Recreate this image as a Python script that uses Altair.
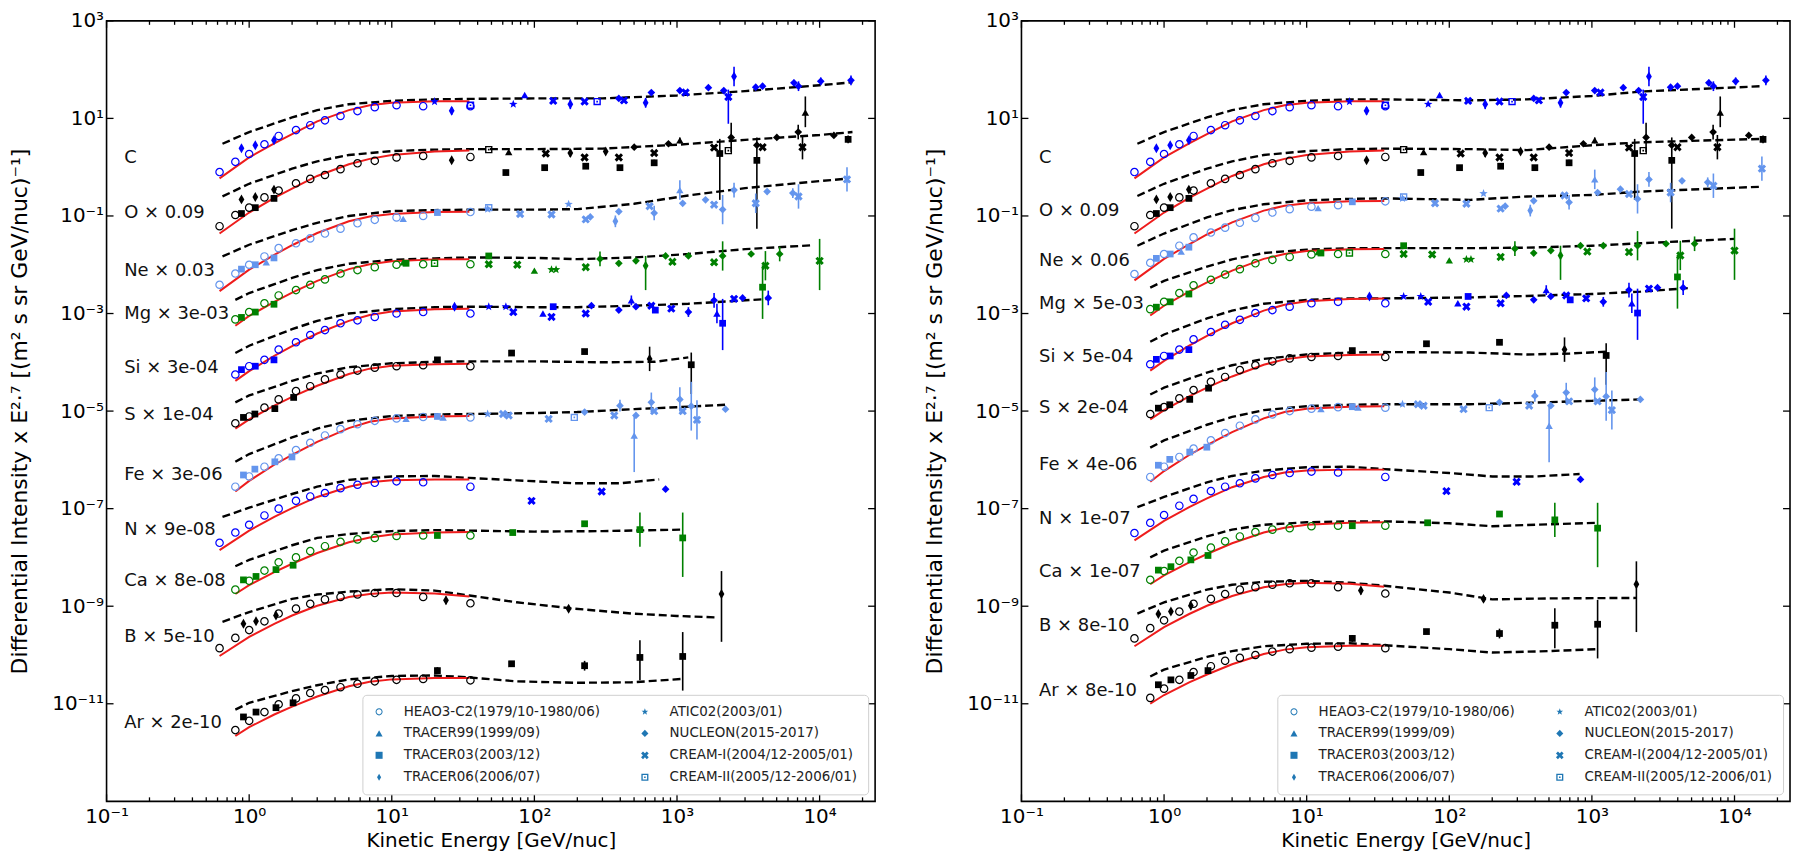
import math
import pandas as pd
import altair as alt

# ---------------------------------------------------------------- data
ELEMENTS = ["C", "O", "Ne", "Mg", "Si", "S", "Fe", "N", "Ca", "B", "Ar"]
COLORS = {"C": "#0000ff", "O": "#000000", "Ne": "#6495ed", "Mg": "#008000",
          "Si": "#0000ff", "S": "#000000", "Fe": "#6495ed", "N": "#0000ff",
          "Ca": "#008000", "B": "#000000", "Ar": "#000000"}
LOW_START = ["C", "O", "Ne", "N", "B"]          # HEAO data starting at 0.62 GeV/nuc

LABELS_LEFT = {"C": "C", "O": "O × 0.09", "Ne": "Ne × 0.03", "Mg": "Mg × 3e-03",
               "Si": "Si × 3e-04", "S": "S × 1e-04", "Fe": "Fe × 3e-06",
               "N": "N × 9e-08", "Ca": "Ca × 8e-08", "B": "B × 5e-10", "Ar": "Ar × 2e-10"}
LABELS_RIGHT = {"C": "C", "O": "O × 0.09", "Ne": "Ne × 0.06", "Mg": "Mg × 5e-03",
                "Si": "Si × 5e-04", "S": "S × 2e-04", "Fe": "Fe × 4e-06",
                "N": "N × 1e-07", "Ca": "Ca × 1e-07", "B": "B × 8e-10", "Ar": "Ar × 8e-10"}
LABEL_E = 0.133
LABEL_LOGY_LEFT = {"C": 0.18, "O": -0.93, "Ne": -2.12, "Mg": -3.02, "Si": -4.11, "S": -5.09,
                   "Fe": -6.31, "N": -7.43, "Ca": -8.48, "B": -9.63, "Ar": -11.39}
LABEL_LOGY_RIGHT = {"C": 0.18, "O": -0.89, "Ne": -1.92, "Mg": -2.80, "Si": -3.90, "S": -4.93,
                    "Fe": -6.11, "N": -7.22, "Ca": -8.29, "B": -9.41, "Ar": -10.73}
# vertical displacement (log10) of the scaled data in the right panel
RIGHT_SHIFT = {"C": 0.0, "O": 0.0, "Ne": 0.22, "Mg": 0.21, "Si": 0.21, "S": 0.19,
               "Fe": 0.20, "N": 0.20, "Ca": 0.20, "B": 0.20, "Ar": 0.66}

# HEAO3-C2 energies (GeV/nuc) and log10 of scaled intensity (left panel)
HEAO_E = [0.62, 0.8, 1.0, 1.28, 1.61, 2.13, 2.68, 3.4, 4.37, 5.75, 7.6, 10.8, 16.6, 35.6]
HEAO_LOG = {
    "C": [-0.10, 0.11, 0.27, 0.47, 0.64, 0.76, 0.86, 0.96, 1.05, 1.15, 1.23, 1.27, 1.25, 1.25],
    "O": [-1.21, -0.98, -0.83, -0.62, -0.48, -0.33, -0.24, -0.16, -0.04, 0.08, 0.13, 0.20, 0.23, 0.21],
    "Ne": [-2.41, -2.18, -2.00, -1.83, -1.66, -1.56, -1.46, -1.36, -1.26, -1.15, -1.08, -1.03, -1.00, -0.92],
    "Mg": [-3.12, -2.97, -2.79, -2.63, -2.52, -2.41, -2.30, -2.18, -2.11, -2.05, -2.00, -1.99, -1.99],
    "Si": [-4.25, -4.08, -3.95, -3.74, -3.59, -3.44, -3.34, -3.20, -3.14, -3.07, -3.00, -2.97, -3.00],
    "S": [-5.25, -5.11, -4.93, -4.76, -4.59, -4.49, -4.35, -4.25, -4.17, -4.11, -4.08, -4.06, -4.08],
    "Fe": [-6.55, -6.34, -6.14, -5.97, -5.80, -5.65, -5.50, -5.37, -5.27, -5.20, -5.15, -5.12, -5.13],
    "N": [-7.70, -7.49, -7.33, -7.14, -7.00, -6.84, -6.75, -6.68, -6.58, -6.51, -6.47, -6.44, -6.46, -6.55],
    "Ca": [-8.66, -8.48, -8.27, -8.10, -8.00, -7.87, -7.77, -7.68, -7.63, -7.60, -7.56, -7.55, -7.55],
    "B": [-9.86, -9.65, -9.49, -9.31, -9.15, -9.05, -8.95, -8.86, -8.81, -8.76, -8.73, -8.73, -8.81, -8.94],
    "Ar": [-11.54, -11.35, -11.17, -11.01, -10.89, -10.78, -10.72, -10.66, -10.59, -10.54, -10.51, -10.49, -10.52],
}

# red (modulated) model, log10 values (left panel)
RED_E_LOW = [0.62, 1.0, 1.5, 2, 3, 5, 7, 10, 20, 35]
RED_E_HIGH = [0.8, 1.0, 1.5, 2, 3, 5, 7, 10, 20, 35]
RED_LOG = {
    "C": [-0.23, 0.20, 0.49, 0.68, 0.94, 1.17, 1.27, 1.32, 1.35, 1.35],
    "O": [-1.36, -0.93, -0.63, -0.44, -0.18, 0.06, 0.17, 0.25, 0.32, 0.34],
    "Ne": [-2.54, -2.10, -1.80, -1.60, -1.35, -1.11, -1.01, -0.96, -0.92, -0.915],
    "Mg": [-3.25, -3.05, -2.76, -2.57, -2.33, -2.09, -1.99, -1.93, -1.89, -1.885],
    "Si": [-4.38, -4.18, -3.87, -3.67, -3.41, -3.15, -3.03, -2.96, -2.91, -2.90],
    "S": [-5.36, -5.17, -4.89, -4.71, -4.48, -4.24, -4.13, -4.07, -4.04, -4.03],
    "Fe": [-6.65, -6.43, -6.10, -5.90, -5.63, -5.35, -5.22, -5.15, -5.11, -5.10],
    "N": [-7.85, -7.45, -7.17, -6.99, -6.76, -6.55, -6.46, -6.42, -6.40, -6.40],
    "Ca": [-8.75, -8.57, -8.30, -8.13, -7.91, -7.69, -7.59, -7.53, -7.49, -7.48],
    "B": [-10.02, -9.63, -9.36, -9.19, -8.99, -8.81, -8.75, -8.72, -8.74, -8.80],
    "Ar": [-11.66, -11.48, -11.22, -11.06, -10.85, -10.64, -10.55, -10.50, -10.47, -10.47],
}

# dashed (unmodulated) model: energies and log10 values, per panel
DASH_LEFT_E = {
    "C": [0.65, 1, 2, 3, 5, 10, 20, 35, 100, 300, 1000, 3000, 10000, 17000],
    "O": [0.65, 1, 2, 3, 5, 10, 20, 35, 100, 300, 1000, 3000, 10000, 17000],
    "Ne": [0.65, 1, 2, 3, 5, 10, 20, 35, 100, 200, 500, 1200, 3000, 16000],
    "Mg": [0.8, 1, 2, 3, 5, 10, 20, 35, 100, 200, 500, 1200, 3000, 9000],
    "Si": [0.8, 1, 2, 3, 5, 10, 20, 35, 100, 200, 500, 1200, 4400],
    "S": [0.8, 1, 2, 3, 5, 10, 20, 35, 100, 300, 700, 1200],
    "Fe": [0.8, 1, 2, 3, 5, 10, 20, 35, 100, 200, 500, 1000, 2200],
    "N": [0.65, 1, 2, 3, 5, 10, 20, 35, 75, 190, 400, 750],
    "Ca": [0.8, 1, 2, 3, 5, 10, 20, 35, 100, 300, 1100],
    "B": [0.65, 1, 2, 3, 5, 10, 20, 35, 75, 190, 480, 1000, 1900],
    "Ar": [0.8, 1, 2, 3, 5, 10, 20, 35, 75, 190, 480, 1100],
}
DASH_LEFT_LOG = {
    "C": [0.48, 0.72, 1.02, 1.17, 1.29, 1.36, 1.39, 1.40, 1.41, 1.41, 1.47, 1.56, 1.68, 1.74],
    "O": [-0.60, -0.34, -0.03, 0.12, 0.25, 0.33, 0.36, 0.37, 0.37, 0.38, 0.46, 0.56, 0.66, 0.72],
    "Ne": [-1.83, -1.59, -1.29, -1.14, -1.00, -0.90, -0.88, -0.87, -0.87, -0.86, -0.75, -0.58, -0.43, -0.23],
    "Mg": [-2.72, -2.58, -2.27, -2.11, -1.98, -1.90, -1.87, -1.85, -1.86, -1.885, -1.85, -1.78, -1.68, -1.60],
    "Si": [-3.81, -3.66, -3.32, -3.15, -3.00, -2.91, -2.87, -2.86, -2.87, -2.87, -2.84, -2.80, -2.70],
    "S": [-4.82, -4.68, -4.38, -4.23, -4.10, -4.02, -3.99, -3.98, -3.98, -4.00, -3.99, -3.90],
    "Fe": [-6.04, -5.88, -5.54, -5.36, -5.20, -5.10, -5.07, -5.06, -5.04, -5.02, -4.96, -4.92, -4.87],
    "N": [-7.17, -6.98, -6.70, -6.55, -6.41, -6.34, -6.33, -6.37, -6.42, -6.48, -6.48, -6.40],
    "Ca": [-8.18, -8.05, -7.75, -7.60, -7.52, -7.46, -7.44, -7.45, -7.47, -7.46, -7.43],
    "B": [-9.32, -9.12, -8.85, -8.76, -8.70, -8.65, -8.68, -8.78, -8.92, -9.05, -9.15, -9.20, -9.23],
    "Ar": [-11.12, -10.98, -10.74, -10.62, -10.50, -10.43, -10.42, -10.46, -10.54, -10.57, -10.56, -10.49],
}
DASH_RIGHT_E = {
    "C": [0.65, 1, 2, 3, 5, 10, 20, 35, 140, 350, 1000, 2200, 15600],
    "O": [0.65, 1, 2, 3, 5, 10, 20, 35, 140, 350, 1000, 2200, 15600],
    "Ne": [0.65, 1, 2, 3, 5, 10, 20, 35, 140, 350, 1000, 2200, 15600],
    "Mg": [0.8, 1, 2, 3, 5, 10, 20, 35, 140, 350, 1000, 2200, 10000],
    "Si": [0.8, 1, 2, 3, 5, 10, 20, 35, 140, 350, 1000, 2200, 4700],
    "S": [0.8, 1, 2, 3, 5, 10, 20, 35, 140, 350, 700, 1300],
    "Fe": [0.8, 1, 2, 3, 5, 10, 20, 35, 140, 350, 1000, 2200],
    "N": [0.65, 1, 2, 3, 5, 10, 20, 35, 100, 200, 400, 820],
    "Ca": [0.8, 1, 2, 3, 5, 10, 20, 35, 100, 200, 400, 1100],
    "B": [0.65, 1, 2, 3, 5, 10, 20, 35, 100, 200, 500, 2050],
    "Ar": [0.8, 1, 2, 3, 5, 10, 20, 35, 100, 200, 500, 1100],
}
DASH_RIGHT_LOG = {
    "C": [0.48, 0.72, 1.02, 1.17, 1.29, 1.36, 1.39, 1.39, 1.37, 1.39, 1.46, 1.55, 1.66],
    "O": [-0.59, -0.34, -0.03, 0.12, 0.25, 0.33, 0.37, 0.38, 0.37, 0.35, 0.45, 0.51, 0.58],
    "Ne": [-1.61, -1.36, -1.03, -0.88, -0.76, -0.68, -0.65, -0.64, -0.67, -0.60, -0.57, -0.50, -0.40],
    "Mg": [-2.47, -2.33, -2.04, -1.89, -1.76, -1.69, -1.66, -1.66, -1.66, -1.65, -1.61, -1.56, -1.47],
    "Si": [-3.58, -3.43, -3.10, -2.94, -2.80, -2.72, -2.69, -2.69, -2.67, -2.64, -2.60, -2.55, -2.48],
    "S": [-4.66, -4.52, -4.21, -4.06, -3.93, -3.84, -3.80, -3.79, -3.80, -3.84, -3.82, -3.78],
    "Fe": [-5.75, -5.60, -5.28, -5.12, -4.98, -4.90, -4.87, -4.86, -4.86, -4.83, -4.79, -4.76],
    "N": [-6.97, -6.76, -6.46, -6.33, -6.22, -6.15, -6.14, -6.19, -6.27, -6.34, -6.34, -6.29],
    "Ca": [-8.00, -7.86, -7.57, -7.43, -7.33, -7.28, -7.26, -7.26, -7.30, -7.36, -7.33, -7.29],
    "B": [-9.15, -8.92, -8.66, -8.56, -8.50, -8.48, -8.52, -8.58, -8.72, -8.86, -8.84, -8.83],
    "Ar": [-10.44, -10.30, -10.04, -9.92, -9.82, -9.77, -9.76, -9.80, -9.88, -9.95, -9.92, -9.88],
}

# other experiments: (log10 E, log10 scaled intensity, experiment code, err down, err up)
HE = {
    "C": [(-0.054, 0.39, "T06", 0, 0), (0.043, 0.45, "T06", 0, 0), (0.174, 0.55, "T06", 0, 0),
          (1.30, 1.345, "A", 0, 0), (1.42, 1.155, "T06", 0.08, 0.08), (1.552, 1.27, "C2", 0, 0),
          (1.852, 1.29, "A", 0, 0), (1.932, 1.48, "T99", 0, 0), (2.132, 1.36, "C1", 0, 0),
          (2.252, 1.29, "T06", 0.1, 0.1), (2.352, 1.345, "C1", 0, 0), (2.44, 1.345, "C2", 0, 0),
          (2.592, 1.41, "N", 0, 0), (2.628, 1.37, "C1", 0, 0), (2.78, 1.32, "T06", 0.1, 0.1),
          (2.82, 1.53, "N", 0, 0), (3.02, 1.57, "N", 0, 0), (3.06, 1.53, "C1", 0.05, 0.05),
          (3.22, 1.63, "N", 0, 0), (3.328, 1.57, "N", 0.05, 0.05), (3.36, 1.44, "C1", 0.55, 0.15),
          (3.40, 1.86, "T06", 0.2, 0.2), (3.552, 1.64, "N", 0.05, 0.05), (3.60, 1.66, "N", 0.05, 0.05),
          (3.82, 1.73, "N", 0.06, 0.06), (3.852, 1.66, "N", 0.1, 0.1), (4.008, 1.76, "N", 0.08, 0.08),
          (4.22, 1.78, "N", 0.1, 0.1)],
    "O": [(-0.054, -0.66, "T06", 0, 0), (0.043, -0.61, "T06", 0, 0), (0.174, -0.46, "T06", 0, 0),
          (-0.054, -0.95, "T03", 0, 0), (0.043, -0.83, "T03", 0, 0), (0.174, -0.64, "T03", 0, 0),
          (1.42, 0.14, "T06", 0.05, 0.05), (1.68, 0.36, "C2", 0, 0), (1.80, -0.11, "T03", 0, 0),
          (1.82, 0.31, "T99", 0, 0), (2.072, -0.01, "T03", 0, 0), (2.08, 0.28, "C1", 0, 0),
          (2.252, 0.29, "T06", 0.08, 0.08), (2.352, 0.20, "C1", 0, 0), (2.36, 0.02, "T03", 0.04, 0.04),
          (2.50, 0.32, "T06", 0.05, 0.05), (2.592, 0.20, "C1", 0, 0), (2.60, -0.01, "T03", 0.04, 0.04),
          (2.70, 0.41, "N", 0, 0), (2.84, 0.29, "C1", 0, 0), (2.84, 0.09, "T03", 0.06, 0.06),
          (2.94, 0.48, "N", 0, 0), (3.02, 0.55, "T99", 0.06, 0.06), (3.26, 0.40, "C1", 0.05, 0.05),
          (3.30, 0.28, "T03", 0.95, 0.3), (3.36, 0.34, "C2", 0, 0), (3.38, 0.61, "N", 0.3, 0.3),
          (3.56, 0.45, "N", 0, 0), (3.56, 0.14, "T03", 1.4, 0.47), (3.60, 0.41, "C1", 0, 0),
          (3.70, 0.61, "N", 0, 0), (3.85, 0.72, "N", 0.15, 0.15), (3.88, 0.41, "C1", 0.25, 0.25),
          (3.90, 1.12, "T99", 0.3, 0.33), (4.10, 0.65, "N", 0.05, 0.05), (4.20, 0.57, "T03", 0.08, 0.08)],
    "Ne": [(-0.054, -2.09, "T03", 0, 0), (0.043, -2.00, "T03", 0, 0), (0.174, -1.86, "T03", 0, 0),
           (0.12, -1.95, "T99", 0, 0), (1.08, -1.06, "T99", 0, 0), (1.32, -0.93, "T03", 0, 0),
           (1.672, -0.86, "A", 0, 0), (1.68, -0.83, "C2", 0, 0), (1.90, -0.96, "C1", 0, 0),
           (2.12, -0.97, "C1", 0, 0), (2.24, -0.76, "A", 0, 0), (2.36, -1.07, "C1", 0, 0),
           (2.392, -1.02, "N", 0, 0), (2.568, -1.11, "T06", 0.12, 0.12), (2.592, -0.91, "N", 0, 0),
           (2.808, -0.80, "C1", 0, 0), (2.84, -0.94, "N", 0.15, 0.15), (3.02, -0.47, "T99", 0.2, 0.2),
           (3.04, -0.74, "N", 0, 0), (3.20, -0.67, "N", 0, 0), (3.26, -0.77, "C1", 0, 0),
           (3.32, -0.87, "N", 0.3, 0.3), (3.40, -0.47, "N", 0.15, 0.15), (3.552, -0.74, "C1", 0.2, 0.2),
           (3.632, -0.50, "N", 0, 0), (3.812, -0.53, "N", 0.1, 0.1), (3.852, -0.60, "C1", 0.25, 0.25),
           (4.192, -0.25, "C1", 0.25, 0.25)],
    "Mg": [(-0.054, -3.08, "T03", 0, 0), (0.043, -2.97, "T03", 0, 0), (0.174, -2.81, "T03", 0, 0),
           (1.08, -1.95, "T99", 0, 0), (1.10, -1.97, "T03", 0, 0), (1.30, -1.97, "C2", 0, 0),
           (1.68, -1.82, "T03", 0, 0), (1.68, -1.99, "C1", 0, 0), (1.88, -2.00, "C1", 0, 0),
           (2.00, -2.12, "T99", 0, 0), (2.12, -2.10, "A", 0, 0), (2.152, -2.10, "A", 0, 0),
           (2.36, -2.05, "C1", 0, 0), (2.46, -1.88, "N", 0.15, 0.15), (2.592, -1.97, "N", 0, 0),
           (2.712, -1.92, "N", 0, 0), (2.78, -2.02, "T06", 0.5, 0.2), (2.92, -1.82, "N", 0, 0),
           (2.968, -1.94, "C1", 0, 0), (3.08, -1.82, "N", 0, 0), (3.26, -1.95, "C1", 0, 0),
           (3.32, -1.82, "N", 0.3, 0.3), (3.52, -1.78, "N", 0, 0), (3.60, -2.46, "T03", 0.65, 0.45),
           (3.62, -2.02, "C1", 0.3, 0.3), (3.72, -1.78, "N", 0.15, 0.15), (4.00, -1.92, "C1", 0.6, 0.45)],
    "Si": [(-0.054, -4.15, "T03", 0, 0), (0.043, -4.08, "T03", 0, 0), (0.174, -3.95, "T03", 0, 0),
           (1.44, -2.86, "T06", 0, 0), (1.68, -2.86, "A", 0, 0), (1.80, -2.86, "A", 0, 0),
           (1.852, -2.97, "C1", 0, 0), (2.06, -3.00, "T99", 0, 0), (2.12, -3.07, "C1", 0, 0),
           (2.132, -2.86, "T03", 0, 0), (2.36, -3.00, "C1", 0, 0), (2.40, -2.84, "N", 0, 0),
           (2.592, -2.93, "N", 0, 0), (2.68, -2.73, "T99", 0.1, 0.1), (2.712, -2.86, "N", 0, 0),
           (2.82, -2.84, "C1", 0, 0), (2.848, -2.93, "T03", 0, 0), (2.96, -2.90, "C1", 0, 0),
           (3.08, -2.97, "N", 0.1, 0.1), (3.26, -2.73, "N", 0.15, 0.15), (3.28, -3.00, "T99", 0.2, 0.2),
           (3.32, -3.20, "T03", 0.55, 0.5), (3.40, -2.70, "C1", 0, 0), (3.46, -2.68, "N", 0, 0),
           (3.64, -2.68, "N", 0.15, 0.15)],
    "S": [(-0.04, -5.13, "T03", 0, 0), (0.04, -5.06, "T03", 0, 0), (0.18, -4.95, "T03", 0, 0),
          (0.312, -4.72, "T03", 0, 0), (1.32, -3.95, "T03", 0, 0), (1.84, -3.81, "T03", 0, 0),
          (2.352, -3.78, "T03", 0, 0), (2.808, -3.93, "T06", 0.25, 0.25), (3.10, -4.05, "T03", 0.6, 0.25)],
    "Fe": [(-0.04, -6.31, "T03", 0, 0), (0.04, -6.19, "T03", 0, 0), (0.18, -6.04, "T03", 0, 0),
           (0.30, -5.94, "T03", 0, 0), (1.10, -5.16, "T99", 0, 0), (1.32, -5.11, "T03", 0, 0),
           (1.36, -5.13, "T99", 0, 0), (1.672, -5.06, "A", 0, 0), (1.78, -5.06, "C1", 0, 0),
           (1.82, -5.09, "C1", 0, 0), (2.10, -5.16, "C1", 0, 0), (2.28, -5.13, "C2", 0, 0),
           (2.352, -5.02, "N", 0, 0), (2.56, -5.09, "C1", 0, 0), (2.60, -4.89, "N", 0.12, 0.12),
           (2.70, -5.50, "T99", 0.75, 0.4), (2.712, -5.09, "N", 0, 0), (2.82, -4.82, "N", 0.2, 0.2),
           (2.84, -5.00, "C1", 0, 0), (3.02, -4.76, "N", 0.25, 0.25), (3.04, -5.00, "C1", 0, 0),
           (3.10, -4.90, "N", 0.5, 0.5), (3.14, -5.18, "C1", 0.4, 0.4), (3.34, -4.96, "N", 0, 0)],
    "N": [(1.98, -6.84, "C1", 0, 0), (2.472, -6.65, "C1", 0, 0), (2.92, -6.60, "N", 0.05, 0.05)],
    "Ca": [(-0.04, -8.46, "T03", 0, 0), (0.048, -8.39, "T03", 0, 0), (0.188, -8.25, "T03", 0, 0),
           (0.308, -8.16, "T03", 0, 0), (1.32, -7.55, "T03", 0, 0), (1.848, -7.49, "T03", 0, 0),
           (2.352, -7.31, "T03", 0, 0), (2.74, -7.43, "T03", 0.35, 0.35), (3.04, -7.60, "T03", 0.8, 0.52)],
    "B": [(-0.04, -9.36, "T06", 0, 0), (0.048, -9.31, "T06", 0, 0), (0.188, -9.19, "T06", 0, 0),
          (1.38, -8.88, "T06", 0.08, 0.08), (2.24, -9.05, "T06", 0.06, 0.06), (3.312, -8.75, "T06", 0.98, 0.47)],
    "Ar": [(-0.04, -11.27, "T03", 0, 0), (0.048, -11.17, "T03", 0, 0), (0.188, -11.08, "T03", 0, 0),
           (0.308, -10.98, "T03", 0, 0), (1.32, -10.32, "T03", 0.07, 0.07), (1.84, -10.18, "T03", 0, 0),
           (2.352, -10.22, "T03", 0.1, 0.1), (2.74, -10.05, "T03", 0.47, 0.35), (3.04, -10.03, "T03", 0.7, 0.5)],
}

EXP_NAMES = {"H": "HEAO3-C2(1979/10-1980/06)", "A": "ATIC02(2003/01)",
             "T99": "TRACER99(1999/09)", "N": "NUCLEON(2015-2017)",
             "T03": "TRACER03(2003/12)", "C1": "CREAM-I(2004/12-2005/01)",
             "T06": "TRACER06(2006/07)", "C2": "CREAM-II(2005/12-2006/01)"}
EXP_ORDER = ["H", "T99", "T03", "T06", "A", "N", "C1", "C2"]   # legend fills column by column
MARK_SIZE = {"H": 75, "A": 80, "T99": 55, "N": 60, "T03": 46, "C1": 60, "T06": 100, "C2": 55}

X_MAJOR = [0.1, 1, 10, 100, 1000, 10000]
X_MINOR = [k * 10.0 ** e for e in range(-1, 5) for k in range(2, 10) if k * 10.0 ** e < 2.4e4]
Y_MAJOR = [1e3, 1e1, 1e-1, 1e-3, 1e-5, 1e-7, 1e-9, 1e-11]

# ---------------------------------------------------------------- marker shapes
def _poly(pts):
    return "M" + "L".join(f"{x:.3f},{y:.3f}" for x, y in pts) + "Z"

RING = ("M1,0A1,1,0,1,1,-1,0A1,1,0,1,1,1,0Z"
        "M0.72,0A0.72,0.72,0,1,0,-0.72,0A0.72,0.72,0,1,0,0.72,0Z")
STAR = _poly([((1.0 if i % 2 == 0 else 0.42) * math.cos(math.radians(-90 + 36 * i)),
               (1.0 if i % 2 == 0 else 0.42) * math.sin(math.radians(-90 + 36 * i))) for i in range(10)])
THIN_DIAMOND = "M0,-1L0.58,0L0,1L-0.58,0Z"
_w = 0.34
_plus = [(_w, -1), (_w, -_w), (1, -_w), (1, _w), (_w, _w), (_w, 1), (-_w, 1), (-_w, _w),
         (-1, _w), (-1, -_w), (-_w, -_w), (-_w, -1)]
XFILL = _poly([((x - y) / math.sqrt(2) * 1.15, (x + y) / math.sqrt(2) * 1.15) for x, y in _plus])
OPEN_SQUARE = ("M-1,-1L1,-1L1,1L-1,1Z"
               "M-0.62,-0.62L-0.62,0.62L0.62,0.62L0.62,-0.62Z"
               "M-0.22,-0.22L0.22,-0.22L0.22,0.22L-0.22,0.22Z")
SHAPES = {"H": RING, "A": STAR, "T99": "triangle-up", "N": "diamond", "T03": "square",
          "C1": XFILL, "T06": THIN_DIAMOND, "C2": OPEN_SQUARE}

# ---------------------------------------------------------------- helpers
W, H = 772, 784
SUP = str.maketrans("-0123456789", "⁻⁰¹²³⁴⁵⁶⁷⁸⁹")


def label_expr(exps):
    return " : ".join(
        f"abs(log(datum.value)/LN10 - ({e})) < 0.01 ? '10{str(e).translate(SUP)}'" for e in exps
    ) + " : ''"


xs = alt.Scale(type="log", domain=[0.1, 2.45e4], nice=False)
ys = alt.Scale(type="log", domain=[1e-13, 1e3], nice=False)
xaxis = alt.Axis(title="Kinetic Energy [GeV/nuc]", values=X_MAJOR,
                 labelExpr=label_expr([-1, 0, 1, 2, 3, 4]), ticks=False, domain=False,
                 grid=False, labelPadding=5, titlePadding=4, labelFontSize=20,
                 titleFontSize=20, labelFlush=False)
yaxis = alt.Axis(title="Differential Intensity x  E²·⁷  [(m²  s  sr  GeV/nuc)⁻¹]", values=Y_MAJOR,
                 labelExpr=label_expr([3, 1, -1, -3, -5, -7, -9, -11]), ticks=False,
                 domain=False, grid=False, labelPadding=3, titlePadding=20,
                 labelFontSize=20, titleFontSize=22, labelFlush=False)


def X(field):
    return alt.X(f"{field}:Q", scale=xs, axis=xaxis)


def Y(field):
    return alt.Y(f"{field}:Q", scale=ys, axis=yaxis)


def panel(side):
    right = side == "R"
    dash_e = DASH_RIGHT_E if right else DASH_LEFT_E
    dash_l = DASH_RIGHT_LOG if right else DASH_LEFT_LOG
    labels = LABELS_RIGHT if right else LABELS_LEFT
    label_y = LABEL_LOGY_RIGHT if right else LABEL_LOGY_LEFT

    dash_rows, red_rows, pt_rows, err_rows, lab_rows = [], [], [], [], []
    for el in ELEMENTS:
        sh = RIGHT_SHIFT[el] if right else 0.0
        col = COLORS[el]
        for e, v in zip(dash_e[el], dash_l[el]):
            dash_rows.append({"E": e, "V": 10 ** v, "el": el})
        red_e = RED_E_LOW if el in LOW_START else RED_E_HIGH
        for e, v in zip(red_e, RED_LOG[el]):
            red_rows.append({"E": e, "V": 10 ** (v + sh), "el": el})
        heao_e = HEAO_E if el in LOW_START else HEAO_E[1:]
        for e, v in zip(heao_e, HEAO_LOG[el]):
            pt_rows.append({"E": e, "V": 10 ** (v + sh), "exp": EXP_NAMES["H"],
                            "col": col, "sz": MARK_SIZE["H"]})
        for le, lv, code, dlo, dhi in HE[el]:
            pt_rows.append({"E": 10 ** le, "V": 10 ** (lv + sh), "exp": EXP_NAMES[code],
                            "col": col, "sz": MARK_SIZE[code]})
            if dlo or dhi:
                err_rows.append({"E": 10 ** le, "lo": 10 ** (lv + sh - dlo),
                                 "hi": 10 ** (lv + sh + dhi), "col": col})
        lab_rows.append({"E": LABEL_E, "V": 10 ** label_y[el], "t": labels[el]})

    dash = alt.Chart(pd.DataFrame(dash_rows)).mark_line(
        color="black", strokeWidth=2.4, strokeDash=[8, 4]
    ).encode(x=X("E"), y=Y("V"), detail="el:N")
    red = alt.Chart(pd.DataFrame(red_rows)).mark_line(
        color="#ee1c1c", strokeWidth=2
    ).encode(x=X("E"), y=Y("V"), detail="el:N")
    err = alt.Chart(pd.DataFrame(err_rows)).mark_rule(strokeWidth=1.6).encode(
        x=X("E"), y=Y("lo"), y2="hi:Q", color=alt.Color("col:N", scale=None))
    pts = alt.Chart(pd.DataFrame(pt_rows)).mark_point(filled=True, opacity=1, strokeWidth=0).encode(
        x=X("E"), y=Y("V"),
        color=alt.Color("col:N", scale=None),
        size=alt.Size("sz:Q", scale=None),
        shape=alt.Shape(
            "exp:N",
            scale=alt.Scale(domain=[EXP_NAMES[c] for c in EXP_ORDER],
                            range=[SHAPES[c] for c in EXP_ORDER]),
            legend=alt.Legend(title=None, orient="bottom-right", columns=2, offset=7,
                              labelFont="DejaVu Sans", labelFontSize=13.5, labelColor="#222222",
                              labelLimit=500,
                              symbolSize=50, symbolFillColor="#1f77b4",
                              symbolStrokeColor="#1f77b4", symbolStrokeWidth=0,
                              symbolOpacity=1, rowPadding=7, columnPadding=38,
                              labelOffset=18, padding=10, strokeColor="#cfcfcf",
                              fillColor="white", cornerRadius=4),
        ),
    )
    texts = alt.Chart(pd.DataFrame(lab_rows)).mark_text(
        align="left", baseline="middle", fontSize=18, font="DejaVu Sans", color="#111111"
    ).encode(x=X("E"), y=Y("V"), text="t:N")

    xmaj = pd.DataFrame({"t": X_MAJOR})
    xmin = pd.DataFrame({"t": X_MINOR})
    ymaj = pd.DataFrame({"t": Y_MAJOR})
    tk = dict(color="black", strokeWidth=1.3)
    ticks = [
        alt.Chart(xmaj).mark_rule(**tk).encode(x=X("t"), y=alt.value(H), y2=alt.value(H - 7)),
        alt.Chart(xmaj).mark_rule(**tk).encode(x=X("t"), y=alt.value(0), y2=alt.value(7)),
        alt.Chart(xmin).mark_rule(**tk).encode(x=X("t"), y=alt.value(H), y2=alt.value(H - 4)),
        alt.Chart(xmin).mark_rule(**tk).encode(x=X("t"), y=alt.value(0), y2=alt.value(4)),
        alt.Chart(ymaj).mark_rule(**tk).encode(y=Y("t"), x=alt.value(0), x2=alt.value(7)),
        alt.Chart(ymaj).mark_rule(**tk).encode(y=Y("t"), x=alt.value(W), x2=alt.value(W - 7)),
    ]
    return alt.layer(dash, red, err, pts, texts, *ticks).properties(width=W, height=H)


chart = (
    alt.hconcat(panel("L"), panel("R"), spacing=46)
    .resolve_scale(shape="independent")
    .resolve_legend(shape="independent")
    .properties(padding=0, background="white")
    .configure_view(stroke="black", strokeWidth=1.6)
    .configure_axis(labelFont="DejaVu Sans", titleFont="DejaVu Sans", labelColor="black",
                    titleColor="black", titleFontWeight="normal")
)

chart.save("out.html", embed_options={"renderer": "svg", "actions": False})
